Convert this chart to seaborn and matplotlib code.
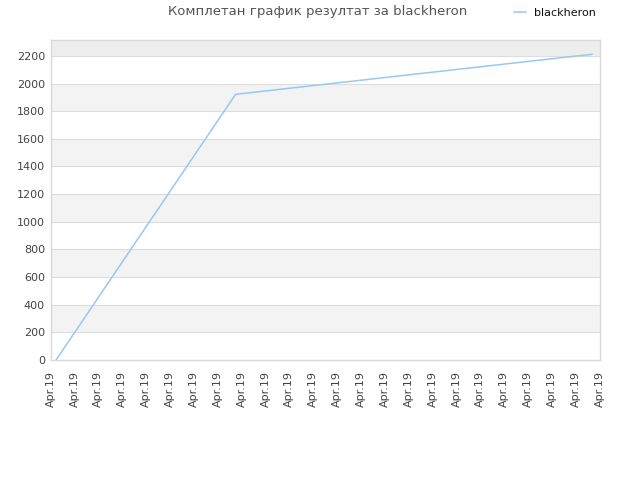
import numpy as np
import pandas as pd
import matplotlib
matplotlib.use('Agg')
import matplotlib.pyplot as plt
import seaborn as sns

# data
player = "blackheron"
point_pos = [0.23, 7.75, 22.69]
points = [0, 1922, 2212]
tick_labels = ["Apr.19"] * 24
y_ticks = list(range(0, 2201, 200))

df = pd.DataFrame({"x": point_pos, "points": points, "player": player})

sns.set_style("white")
plt.rcParams['font.family'] = ['DejaVu Sans']

fig = plt.figure(figsize=(6.4, 4.8), dpi=100)
ax = fig.add_axes([0.079, 0.25, 0.858, 0.667])

y_top = 2316
# alternating bands
ax.axhspan(2200, y_top, color="#eeeeee", zorder=0, lw=0)
for lo in y_ticks[:-1]:
    if (lo // 200) % 2 == 1:
        ax.axhspan(lo, lo + 200, color="#f3f3f3", zorder=0, lw=0)
for t in y_ticks[1:]:
    ax.axhline(t, color="#dddddd", lw=0.8, zorder=1)

sns.lineplot(data=df, x="x", y="points", hue="player", palette=["#99c7f4"],
             linewidth=1.1, ax=ax, zorder=3)

ax.set_xlim(0, 23)
ax.set_ylim(0, y_top)
ax.set_xticks(range(len(tick_labels)))
ax.set_xticklabels(tick_labels, rotation=90, fontsize=8, color="#444444")
ax.set_yticks(y_ticks)
ax.set_yticklabels([str(v) for v in y_ticks], fontsize=8, color="#444444")
ax.tick_params(axis="y", length=0, pad=4)
ax.tick_params(axis="x", length=0, pad=8)
ax.set_xlabel("")
ax.set_ylabel("")
for s in ax.spines.values():
    s.set_color("#d8d8d8")
    s.set_linewidth(1)

fig.text(0.497, 0.99, "Комплетан график резултат за blackheron", ha="center",
         va="top", fontsize=9.5, color="#555555")

leg = ax.legend(loc="upper right", bbox_to_anchor=(1.012, 1.13), frameon=False,
                fontsize=8, handlelength=1.0, handletextpad=0.8, title=None)
for txt in leg.get_texts():
    txt.set_color("#111111")

fig.savefig("out.png", dpi=100)
